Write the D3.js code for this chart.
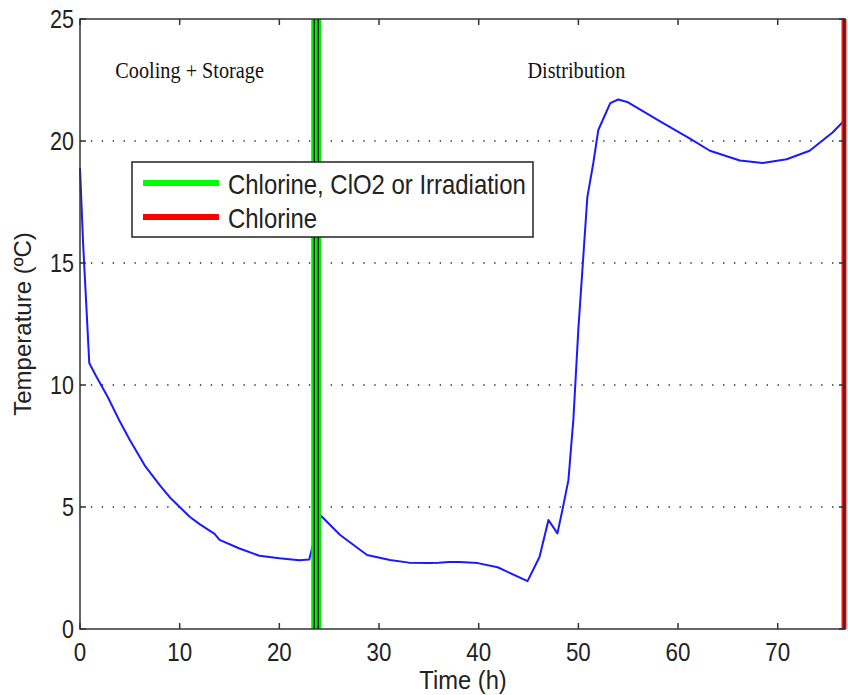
<!DOCTYPE html>
<html><head><meta charset="utf-8">
<script src="https://cdn.jsdelivr.net/npm/d3@7"></script>
<style>body{margin:0;background:#fff}svg{display:block}</style>
</head><body>
<svg id="c" width="848" height="695"></svg>
<script>
const timeH = [0,0.3,0.93,1.57,2.8,4,5,6.5,8,9,10,11,12,13.5,14,16,18,20,22,23,24.1,26.1,28.8,31.1,33,35,36,37,38.1,39.9,41.9,44.9,46.1,47,47.9,48.5,49,49.5,50,50.9,51.5,52,53.2,54,54.9,58.2,61.2,63.2,66.2,68.5,70.9,73.2,75.5,76.7];
const tempC = [18.9,15.9,10.9,10.4,9.5,8.5,7.75,6.7,5.9,5.4,5.0,4.6,4.3,3.9,3.65,3.3,3.0,2.9,2.82,2.85,4.67,3.85,3.03,2.83,2.72,2.7,2.72,2.75,2.75,2.7,2.53,1.96,2.95,4.47,3.92,5.08,6.1,8.6,12.3,17.7,19.1,20.45,21.55,21.7,21.6,20.8,20.1,19.6,19.2,19.1,19.25,19.6,20.35,20.85];
const xTicks = [0,10,20,30,40,50,60,70];
const yTicks = [0,5,10,15,20,25];
const gridY = [5,10,15,20];
const greenLines = [23.5,23.9];
const redLines = [76.7];
const regionLabels = [{x:11.0,y:22.6,text:"Cooling + Storage"},{x:49.8,y:22.6,text:"Distribution"}];
const legendItems = [{label:"Chlorine, ClO2 or Irradiation",color:"#00ff00"},{label:"Chlorine",color:"#ff0000"}];

const svg = d3.select("#c");
const L=80,R=845,T=19,B=629;
const x = d3.scaleLinear().domain([0,76.75]).range([L,R]);
const y = d3.scaleLinear().domain([0,25]).range([B,T]);

// grid
svg.append("g").selectAll("line").data(gridY).join("line")
  .attr("x1",L).attr("x2",R).attr("y1",d=>y(d)).attr("y2",d=>y(d))
  .attr("stroke","#222").attr("stroke-width",1.3).attr("stroke-dasharray","1.3,9.6");

// curve
svg.append("path").datum(timeH.map((t,i)=>[t,tempC[i]]))
  .attr("d",d3.line().x(d=>x(d[0])).y(d=>y(d[1])))
  .attr("fill","none").attr("stroke","#1a1aff").attr("stroke-width",2).attr("stroke-linejoin","round");

// green vertical lines
const gx0=x(greenLines[0]), gx1=x(greenLines[1]);
svg.append("rect").attr("x",gx0-3).attr("y",T).attr("width",gx1-gx0+6).attr("height",B-T).attr("fill","#00ee00");
svg.append("g").selectAll("line").data(greenLines).join("line")
  .attr("x1",d=>x(d)).attr("x2",d=>x(d)).attr("y1",T).attr("y2",B)
  .attr("stroke","#111").attr("stroke-width",1.3);

// red line
svg.append("g").selectAll("rect").data(redLines).join("rect")
  .attr("x",d=>x(d)-3).attr("y",T).attr("width",5).attr("height",B-T).attr("fill","#ff1010");
svg.append("g").selectAll("line").data(redLines).join("line")
  .attr("x1",d=>x(d)-0.5).attr("x2",d=>x(d)-0.5).attr("y1",T).attr("y2",B)
  .attr("stroke","#111").attr("stroke-width",1.2);

// axes box
const ax = svg.append("g").attr("stroke","#333").attr("stroke-width",1.5);
ax.append("rect").attr("x",L).attr("y",T).attr("width",R-L).attr("height",B-T).attr("fill","none");
const tl=6;
ax.selectAll(".xt").data(xTicks).join("line").attr("class","xt")
  .attr("x1",d=>x(d)).attr("x2",d=>x(d)).attr("y1",B).attr("y2",B-tl);
ax.selectAll(".xt2").data(xTicks).join("line").attr("class","xt2")
  .attr("x1",d=>x(d)).attr("x2",d=>x(d)).attr("y1",T).attr("y2",T+tl);
ax.selectAll(".yt").data(yTicks).join("line").attr("class","yt")
  .attr("x1",L).attr("x2",L+tl).attr("y1",d=>y(d)).attr("y2",d=>y(d));
ax.selectAll(".yt2").data(yTicks).join("line").attr("class","yt2")
  .attr("x1",R).attr("x2",R-tl).attr("y1",d=>y(d)).attr("y2",d=>y(d));

const font = "'Liberation Sans',Arial,sans-serif";
svg.append("g").selectAll("text").data(xTicks).join("text")
  .attr("transform",d=>`translate(${x(d)},${B+32}) scale(0.86,1)`).attr("text-anchor","middle")
  .attr("font-family",font).attr("font-size",26).attr("fill","#222").text(d=>d);
svg.append("g").selectAll("text").data(yTicks).join("text")
  .attr("transform",d=>`translate(${L-6},${y(d)+9}) scale(0.86,1)`).attr("text-anchor","end")
  .attr("font-family",font).attr("font-size",25).attr("fill","#222").text(d=>d);

svg.append("text").attr("transform","translate(463,689) scale(0.95,1)").attr("text-anchor","middle")
  .attr("font-family",font).attr("font-size",25).attr("fill","#222").text("Time (h)");
svg.append("text").attr("transform","translate(31,324) rotate(-90)").attr("text-anchor","middle")
  .attr("font-family",font).attr("font-size",24).attr("fill","#222").text("Temperature (ºC)");

// region labels
svg.append("g").selectAll("text").data(regionLabels).join("text")
  .attr("transform",d=>`translate(${x(d.x)},${y(d.y)}) scale(0.9,1)`).attr("text-anchor","middle")
  .attr("font-family","'Liberation Serif','Times New Roman',serif").attr("font-size",22.5).attr("fill","#111")
  .text(d=>d.text);

// legend
const lg = svg.append("g");
lg.append("rect").attr("x",132).attr("y",162).attr("width",401).attr("height",75)
  .attr("fill","#fff").attr("stroke","#222").attr("stroke-width",1.5);
const li = lg.selectAll("g").data(legendItems).join("g")
  .attr("transform",(d,i)=>`translate(0,${183+i*34})`);
li.append("line").attr("x1",143).attr("x2",219).attr("y1",0).attr("y2",0)
  .attr("stroke",d=>d.color).attr("stroke-width",6);
li.append("text").attr("transform","translate(228,11) scale(0.87,1)").attr("font-family",font)
  .attr("font-size",27.5).attr("fill","#222").text(d=>d.label);
</script>
</body></html>
